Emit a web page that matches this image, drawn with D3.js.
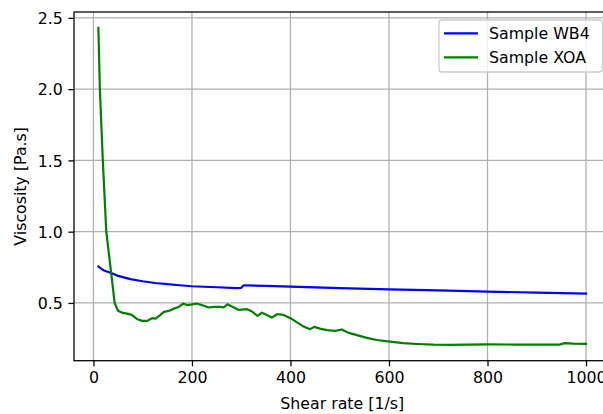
<!DOCTYPE html>
<html>
<head>
<meta charset="utf-8">
<script src="https://cdn.jsdelivr.net/npm/d3@7"></script>
<style>
  html, body { margin: 0; padding: 0; background: #fff; }
  svg { display: block; font-family: "DejaVu Sans", sans-serif; }
</style>
</head>
<body>
<svg id="chart" width="603" height="414"></svg>
<script>
// Shear rate (1/s) and viscosity (Pa.s) for each sample
const wb4Rate = [10, 20, 36, 50, 75, 100, 125, 150, 175, 200, 250, 290, 300, 305, 350, 400, 500, 600, 700, 800, 900, 1000];
const wb4Visc = [0.755, 0.73, 0.71, 0.69, 0.667, 0.652, 0.64, 0.632, 0.624, 0.617, 0.61, 0.604, 0.606, 0.624, 0.62, 0.615, 0.604, 0.595, 0.588, 0.58, 0.572, 0.566];

const xoaRate = [10, 13, 19, 26, 36, 43, 50, 58, 68, 78, 88, 99, 109, 119, 126, 136, 143, 153, 163, 173, 182, 190, 200, 210, 220, 234, 244, 258, 264, 272, 285, 295, 312, 322, 333, 342, 352, 362, 373, 386, 400, 414, 427, 440, 448, 460, 474, 491, 504, 518, 535, 555, 575, 602, 629, 657, 690, 724, 758, 799, 859, 927, 947, 957, 974, 1000];
const xoaVisc = [2.43, 2.0, 1.5, 1.0, 0.71, 0.5, 0.445, 0.432, 0.425, 0.416, 0.388, 0.374, 0.374, 0.393, 0.39, 0.416, 0.437, 0.444, 0.46, 0.472, 0.496, 0.485, 0.49, 0.496, 0.485, 0.468, 0.472, 0.472, 0.468, 0.491, 0.468, 0.451, 0.456, 0.44, 0.409, 0.432, 0.416, 0.397, 0.421, 0.416, 0.393, 0.362, 0.334, 0.316, 0.332, 0.32, 0.309, 0.304, 0.314, 0.29, 0.274, 0.255, 0.24, 0.228, 0.218, 0.212, 0.207, 0.206, 0.207, 0.21, 0.208, 0.208, 0.208, 0.218, 0.215, 0.213];

const seriesNames = ["Sample WB4", "Sample XOA"];
const seriesColors = ["#0000ff", "#008000"];

const xTicks = [0, 200, 400, 600, 800, 1000];
const yTicks = [0.5, 1.0, 1.5, 2.0, 2.5];

const xLabel = "Shear rate [1/s]";
const yLabel = "Viscosity [Pa.s]";

// Plot frame (the right edge runs past the visible canvas)
const plot = { left: 74, top: 12, right: 610.4, bottom: 360.7 };
const fontSize = 15.8;
const lw = 1.28;

const series = [
  { name: seriesNames[0], color: seriesColors[0], pts: wb4Rate.map((r, i) => [r, wb4Visc[i]]) },
  { name: seriesNames[1], color: seriesColors[1], pts: xoaRate.map((r, i) => [r, xoaVisc[i]]) }
];

// 5% padding around the data range on both axes
const allPts = series.flatMap(s => s.pts);
function padded(ext) { const m = (ext[1] - ext[0]) * 0.05; return [ext[0] - m, ext[1] + m]; }
const x = d3.scaleLinear().domain(padded(d3.extent(allPts, d => d[0]))).range([plot.left, plot.right]);
const y = d3.scaleLinear().domain(padded(d3.extent(allPts, d => d[1]))).range([plot.bottom, plot.top]);

const svg = d3.select("#chart");

// grid
const grid = svg.append("g").attr("stroke", "#b0b0b0").attr("stroke-width", lw);
grid.selectAll("line.gx").data(xTicks).join("line")
  .attr("x1", d => x(d)).attr("x2", d => x(d))
  .attr("y1", plot.top).attr("y2", plot.bottom);
grid.selectAll("line.gy").data(yTicks).join("line")
  .attr("x1", plot.left).attr("x2", plot.right)
  .attr("y1", d => y(d)).attr("y2", d => y(d));

// series lines
const line = d3.line().x(d => x(d[0])).y(d => y(d[1]));
svg.append("g").selectAll("path").data(series).join("path")
  .attr("d", d => line(d.pts))
  .attr("fill", "none")
  .attr("stroke", d => d.color)
  .attr("stroke-width", 2.2)
  .attr("stroke-linejoin", "round")
  .attr("stroke-linecap", "square");

// spines
svg.append("rect")
  .attr("x", plot.left).attr("y", plot.top)
  .attr("width", plot.right - plot.left).attr("height", plot.bottom - plot.top)
  .attr("fill", "none").attr("stroke", "#000").attr("stroke-width", lw);

// axes with outward ticks
const xAxis = d3.axisBottom(x).tickValues(xTicks).tickSize(5.6).tickPadding(5.6).tickFormat(d3.format("d"));
const yAxis = d3.axisLeft(y).tickValues(yTicks).tickSize(5.6).tickPadding(5.6).tickFormat(d3.format(".1f"));

const gx = svg.append("g").attr("transform", `translate(0,${plot.bottom})`).call(xAxis);
const gy = svg.append("g").attr("transform", `translate(${plot.left},0)`).call(yAxis);
[gx, gy].forEach(g => {
  g.select(".domain").remove();
  g.selectAll(".tick line").attr("stroke", "#000").attr("stroke-width", lw);
  g.selectAll(".tick text").attr("fill", "#000").attr("font-size", fontSize)
    .attr("font-family", "DejaVu Sans, sans-serif");
});
gy.selectAll(".tick text").attr("dy", "0.36em");

// axis titles
svg.append("text")
  .attr("x", (plot.left + plot.right) / 2).attr("y", 409)
  .attr("text-anchor", "middle").attr("font-size", fontSize).attr("fill", "#000")
  .text(xLabel);
svg.append("text")
  .attr("transform", `translate(26,${(plot.top + plot.bottom) / 2}) rotate(-90)`)
  .attr("text-anchor", "middle").attr("font-size", fontSize).attr("fill", "#000")
  .text(yLabel);

// legend
const legend = svg.append("g");
legend.append("rect")
  .attr("x", 439).attr("y", 20).attr("width", 163.5).attr("height", 52).attr("rx", 3)
  .attr("fill", "#fff").attr("fill-opacity", 0.8)
  .attr("stroke", "#cccccc").attr("stroke-width", lw);
const items = legend.selectAll("g.item").data(series).join("g")
  .attr("transform", (d, i) => `translate(0,${33.4 + i * 24})`);
items.append("line")
  .attr("x1", 444).attr("x2", 478).attr("y1", 0).attr("y2", 0)
  .attr("stroke", d => d.color).attr("stroke-width", 2.2);
items.append("text")
  .attr("x", 489).attr("dy", "0.36em")
  .attr("font-size", fontSize).attr("fill", "#000")
  .text(d => d.name);
</script>
</body>
</html>
